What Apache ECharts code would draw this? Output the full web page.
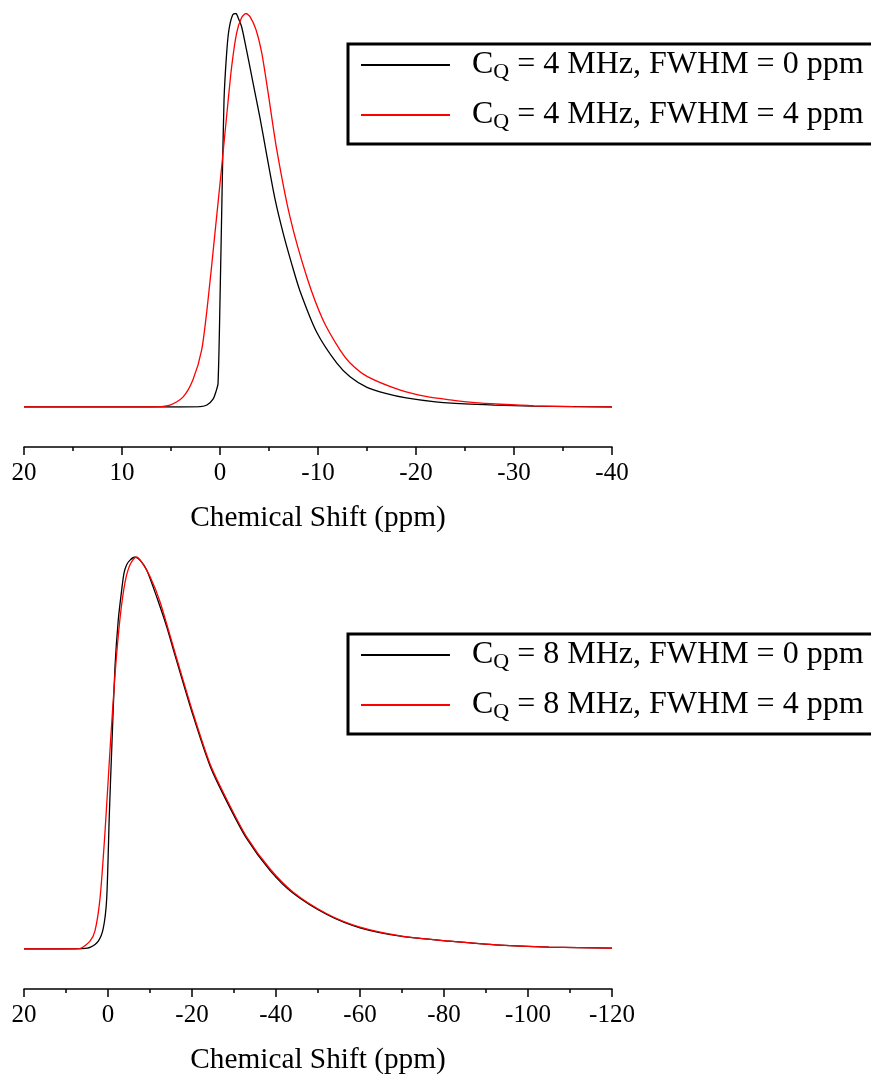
<!DOCTYPE html>
<html>
<head>
<meta charset="utf-8">
<script src="https://cdn.jsdelivr.net/npm/echarts@6/dist/echarts.min.js"></script>
<style>
html,body{margin:0;padding:0;background:#fff;}
#chart{width:871px;height:1076px;}
</style>
</head>
<body>
<div id="chart"></div>
<script>
// ---- Data (chemical shift in ppm, normalised intensity) ----
const seriesNames = [
  'CQ = 4 MHz, FWHM = 0 ppm',
  'CQ = 4 MHz, FWHM = 4 ppm',
  'CQ = 8 MHz, FWHM = 0 ppm',
  'CQ = 8 MHz, FWHM = 4 ppm'
];
const axisTitle = 'Chemical Shift (ppm)';

// Top panel, CQ = 4 MHz, FWHM = 0 ppm (black)
const top0X = [20, 10, 4, 2, 1.33, 0.71, 0.4, 0.2, 0, -0.2, -0.41, -0.68, -0.92, -1.3, -1.63, -1.84, -2.2, -2.7, -3.37, -4.08, -4.77, -5.6, -6.43, -7.3, -8.16, -9.87, -11.9, -13.27, -15, -17, -19, -22, -25, -28, -32, -36, -40];
const top0Y = [0, 0, 0, 0.001, 0.005, 0.02, 0.04, 0.06, 0.27, 0.53, 0.78, 0.9, 0.96, 0.997, 1.0, 0.99, 0.967, 0.908, 0.824, 0.735, 0.64, 0.53, 0.443, 0.365, 0.295, 0.19, 0.112, 0.077, 0.05, 0.034, 0.023, 0.013, 0.008, 0.005, 0.002, 0.001, 0];

// Top panel, CQ = 4 MHz, FWHM = 4 ppm (red)
const top1X = [20, 10, 7.14, 5.1, 3.78, 2.76, 1.87, 1.22, 0.51, -0.17, -0.68, -1.19, -1.7, -2.21, -2.65, -3.06, -3.67, -4.26, -4.9, -5.79, -7.14, -8.85, -10.51, -12.24, -13.27, -15, -18.4, -21, -23.5, -26, -28.6, -32, -36, -40];
const top1Y = [0, 0, 0, 0.005, 0.025, 0.069, 0.145, 0.272, 0.443, 0.61, 0.74, 0.865, 0.951, 0.99, 1.0, 0.992, 0.959, 0.9, 0.8, 0.654, 0.483, 0.331, 0.221, 0.145, 0.112, 0.078, 0.043, 0.027, 0.018, 0.011, 0.007, 0.003, 0.001, 0];

// Bottom panel, CQ = 8 MHz, FWHM = 0 ppm (black)
const bot0X = [20, 11.4, 6, 4.29, 2.31, 1.12, 0.31, -0.31, -0.88, -1.67, -2.45, -3.26, -3.81, -4.45, -5.24, -6.43, -7.62, -9.21, -11.6, -13.98, -15.8, -20.3, -24.3, -28.3, -33, -38.6, -44.1, -52.1, -60, -70, -81.4, -93.3, -105, -120];
const bot0Y = [0, 0, 0.001, 0.004, 0.02, 0.053, 0.129, 0.341, 0.508, 0.721, 0.84, 0.916, 0.959, 0.98, 0.992, 1.0, 0.992, 0.967, 0.898, 0.822, 0.755, 0.594, 0.467, 0.376, 0.282, 0.2, 0.142, 0.088, 0.054, 0.032, 0.02, 0.01, 0.005, 0.002];

// Bottom panel, CQ = 8 MHz, FWHM = 4 ppm (red)
const bot1X = [20, 8, 6.67, 4.29, 3.1, 1.9, 0.71, -0.48, -1.67, -2.86, -4.05, -5.24, -6.67, -8.02, -10, -12.38, -16.36, -20.3, -24.3, -28.3, -33, -38.6, -44.1, -52.1, -60, -70, -81.4, -93.3, -105, -120];
const bot1Y = [0, 0, 0.001, 0.02, 0.046, 0.129, 0.299, 0.508, 0.70, 0.843, 0.935, 0.98, 1.0, 0.987, 0.95, 0.886, 0.741, 0.60, 0.472, 0.381, 0.286, 0.204, 0.145, 0.09, 0.056, 0.033, 0.02, 0.01, 0.005, 0.002];

// Axis ranges / ticks
const topAxis = {min: -40, max: 20, interval: 10};
const botAxis = {min: -120, max: 20, interval: 20};

function zip(xs, ys) { return xs.map((x, i) => [x, ys[i]]); }

const FONT = 'Liberation Serif';

function makeXAxis(gridIndex, ax) {
  return {
    gridIndex: gridIndex, type: 'value', min: ax.min, max: ax.max, interval: ax.interval,
    inverse: true, position: 'bottom', offset: 40,
    axisLine: {show: true, onZero: false, lineStyle: {color: '#000', width: 1.5}},
    axisTick: {show: true, inside: false, length: 8, lineStyle: {color: '#000', width: 1.5}},
    minorTick: {show: true, splitNumber: 2, length: 4, lineStyle: {color: '#000', width: 1.5}},
    splitLine: {show: false},
    axisLabel: {fontFamily: FONT, fontSize: 25, color: '#000', margin: 14, showMinLabel: true, showMaxLabel: true},
    name: axisTitle, nameLocation: 'middle', nameGap: 57,
    nameTextStyle: {fontFamily: FONT, fontSize: 29.3, color: '#000'}
  };
}
function makeYAxis(gridIndex) {
  return {gridIndex: gridIndex, type: 'value', min: 0, max: 1, show: false};
}
function makeSeries(name, xi, xs, ys, color) {
  return {
    name: name, type: 'line', xAxisIndex: xi, yAxisIndex: xi,
    data: zip(xs, ys), showSymbol: false, symbol: 'none',
    smooth: 0.25,
    lineStyle: {color: color, width: 1.3}, itemStyle: {color: color},
    emphasis: {disabled: true}
  };
}
const legendRich = {
  c: {fontFamily: FONT, fontSize: 32, lineHeight: 36, color: '#000', padding: [0, 0, 0, 17]},
  s: {fontFamily: FONT, fontSize: 22, lineHeight: 20, verticalAlign: 'bottom', color: '#000'},
  m: {fontFamily: FONT, fontSize: 32, lineHeight: 36, color: '#000'}
};
function legendFmt(n) { return '{c|C}{s|Q}{m|' + n.slice(2) + '}'; }
function makeLegend(top, names) {
  return {
    left: 348, top: top, orient: 'vertical', data: names, icon: 'rect',
    itemWidth: 89, itemHeight: 2, itemGap: 16,
    borderColor: '#000', borderWidth: 3, padding: [5, 30, 11, 13],
    selectedMode: false, formatter: legendFmt,
    textStyle: {rich: legendRich}
  };
}

const chart = echarts.init(document.getElementById('chart'), null, {renderer: 'canvas'});
chart.setOption({
  animation: false,
  backgroundColor: '#fff',
  grid: [
    {left: 24, right: 259, top: 13.5, height: 393.5},
    {left: 24, right: 259, top: 557, height: 394}
  ],
  xAxis: [makeXAxis(0, topAxis), makeXAxis(1, botAxis)],
  yAxis: [makeYAxis(0), makeYAxis(1)],
  legend: [makeLegend(44, [seriesNames[0], seriesNames[1]]), makeLegend(634, [seriesNames[2], seriesNames[3]])],
  series: [
    makeSeries(seriesNames[0], 0, top0X, top0Y, '#000000'),
    makeSeries(seriesNames[1], 0, top1X, top1Y, '#ff0000'),
    makeSeries(seriesNames[2], 1, bot0X, bot0Y, '#000000'),
    makeSeries(seriesNames[3], 1, bot1X, bot1Y, '#ff0000')
  ]
});
</script>
</body>
</html>
